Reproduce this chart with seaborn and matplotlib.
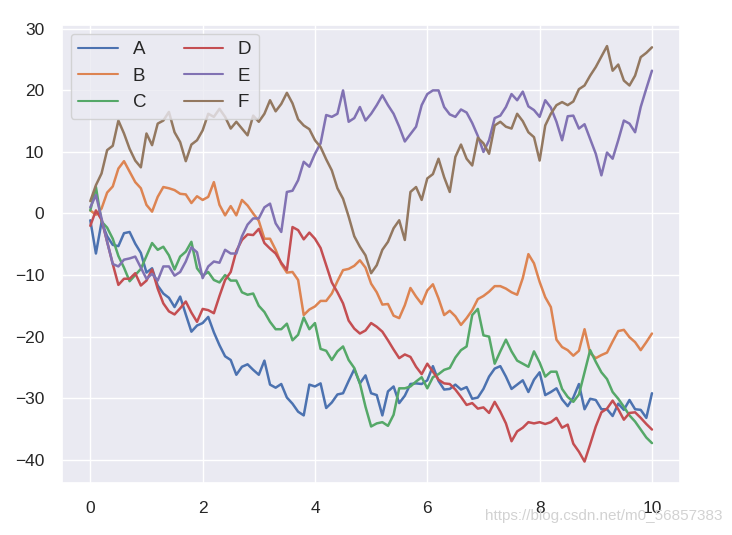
import numpy as np
import pandas as pd
import seaborn as sns
import matplotlib
matplotlib.use("Agg")
import matplotlib.pyplot as plt

# x grid (0 .. 10, step 0.1) and the six walks
x = np.round(np.linspace(0, 10, 101), 1)

A = [-1.1, -6.5, -1.4, -3.7, -5.1, -5.3, -3.2, -3.0, -4.9, -6.4, -9.6, -8.9, -11.7, -13.0, -13.7, -15.2,
     -13.5, -16.4, -19.2, -18.2, -17.8, -16.8, -19.3, -21.4, -23.2, -23.8, -26.2, -24.9, -24.5, -25.4, -26.2, -23.9, -27.8,
     -28.3, -27.7, -29.9, -30.9, -32.2, -32.8, -27.8, -28.1, -27.6, -31.6, -30.7, -29.4, -29.2, -27.2, -25.3, -27.6, -26.3,
     -29.2, -29.5, -32.8, -28.9, -28.1, -30.8, -29.6, -27.7, -27.6, -27.7, -27.1, -24.8, -27.2, -28.6, -28.5, -27.8, -28.6,
     -28.2, -30.1, -29.9, -28.5, -26.5, -25.2, -24.8, -26.5, -28.5, -27.8, -27.1, -29.0, -27.0, -25.8, -29.5, -29.0, -28.4,
     -30.2, -31.3, -29.9, -27.7, -31.8, -30.1, -30.3, -31.8, -31.8, -32.9, -30.9, -31.9, -30.3, -31.8, -31.9, -33.2, -29.2]
B = [0.5, -0.2, 0.8, 3.4, 4.4, 7.3, 8.5, 6.8, 5.1, 4.1, 1.4, 0.3, 2.7, 4.3, 4.1, 3.8,
     3.2, 3.1, 1.7, 2.8, 2.2, 2.7, 5.1, 1.4, -0.3, 1.2, -0.3, 2.2, 1.3, 0.0, -1.2, -4.1, -4.1,
     -5.9, -8.2, -9.6, -9.5, -10.8, -16.5, -15.6, -15.1, -14.2, -14.2, -13.0, -11.0, -9.2, -9.0, -8.5, -7.6, -8.8,
     -11.4, -12.8, -14.8, -14.7, -16.6, -17.0, -14.9, -12.1, -13.5, -14.7, -12.5, -11.5, -13.8, -16.5, -15.8, -16.7, -18.1,
     -17.0, -15.7, -13.9, -13.4, -12.7, -11.8, -11.8, -12.2, -12.8, -13.2, -10.5, -6.6, -8.1, -11.1, -13.6, -15.2, -20.5,
     -21.7, -22.2, -23.1, -22.3, -18.8, -22.7, -23.5, -23.0, -22.6, -20.8, -19.1, -18.9, -20.1, -20.9, -22.2, -20.9, -19.5]
C = [0.5, 4.3, -1.3, -2.3, -4.1, -6.9, -8.8, -11.0, -10.0, -9.0, -6.9, -4.8, -5.9, -5.4, -6.8, -9.1,
     -7.0, -6.2, -4.6, -8.9, -10.1, -9.5, -10.8, -11.2, -10.0, -10.9, -10.9, -12.8, -13.2, -13.0, -15.0, -16.0, -17.6,
     -18.8, -18.8, -17.9, -20.6, -19.7, -16.9, -18.8, -17.8, -22.0, -22.3, -23.8, -22.4, -21.6, -23.8, -25.1, -27.6, -31.4,
     -34.6, -34.1, -33.9, -34.5, -32.7, -28.4, -28.4, -28.1, -27.3, -26.6, -28.4, -26.6, -26.1, -25.4, -25.1, -23.4, -22.2,
     -21.6, -16.5, -15.5, -19.8, -20.0, -24.4, -22.4, -20.5, -22.4, -23.9, -24.4, -24.9, -22.4, -24.2, -26.5, -25.7, -25.7,
     -28.5, -29.8, -30.6, -29.4, -25.8, -22.2, -24.1, -25.8, -26.9, -29.0, -30.1, -31.4, -32.8, -33.8, -35.1, -36.4, -37.3]
D = [-2.0, 0.5, -1.0, -4.6, -8.2, -11.6, -10.6, -10.6, -9.7, -11.7, -10.9, -9.1, -12.2, -14.6, -15.9, -16.4,
     -15.4, -14.3, -16.1, -17.6, -15.5, -15.7, -16.2, -13.4, -10.8, -9.5, -6.1, -4.3, -3.4, -3.5, -2.5, -4.8, -5.7,
     -6.5, -8.0, -9.2, -2.2, -2.7, -4.2, -3.1, -4.1, -5.6, -8.4, -11.2, -12.8, -14.6, -17.4, -18.7, -19.5, -19.0,
     -17.8, -18.4, -19.2, -20.6, -22.1, -23.5, -22.9, -23.3, -24.9, -26.1, -24.4, -25.7, -27.0, -27.6, -27.7, -28.6, -29.8,
     -31.1, -30.8, -31.7, -31.5, -32.4, -30.6, -32.2, -34.1, -37.0, -35.4, -34.8, -33.9, -34.1, -33.9, -34.2, -33.9, -33.2,
     -34.8, -34.3, -37.4, -38.7, -40.3, -37.5, -34.6, -32.3, -31.7, -30.4, -31.8, -33.5, -32.4, -32.3, -33.2, -34.2, -35.1]
E = [1.0, 3.0, -0.8, -4.6, -8.2, -8.6, -7.5, -7.3, -7.0, -8.8, -10.6, -9.8, -10.9, -8.6, -8.6, -10.1,
     -9.5, -7.8, -5.5, -6.3, -10.5, -8.6, -7.8, -8.0, -5.9, -6.5, -6.5, -3.7, -1.8, -0.8, -0.8, 1.0, 1.6,
     -1.6, -3.0, 3.5, 3.7, 5.4, 8.4, 7.6, 9.7, 11.4, 16.0, 15.7, 16.2, 20.0, 14.9, 15.5, 17.3, 15.1,
     16.2, 17.6, 19.2, 17.6, 16.2, 14.1, 11.7, 12.9, 14.1, 17.6, 19.4, 20.0, 20.0, 17.3, 16.1, 15.7, 16.9,
     16.4, 14.7, 12.6, 10.0, 11.9, 15.5, 15.9, 17.3, 19.4, 18.4, 19.8, 17.4, 16.8, 15.7, 18.4, 17.2, 14.9,
     11.9, 15.8, 15.9, 13.8, 14.5, 12.1, 9.7, 6.2, 9.9, 8.9, 11.9, 15.1, 14.6, 13.2, 17.3, 20.3, 23.2]
F = [2.0, 4.6, 6.5, 10.3, 11.0, 15.1, 13.0, 10.5, 8.6, 7.5, 13.0, 11.1, 14.6, 15.1, 16.5, 13.2,
     11.6, 8.5, 11.2, 11.9, 13.5, 16.2, 15.7, 17.0, 15.7, 13.8, 14.9, 13.8, 12.7, 15.9, 14.9, 16.2, 18.4,
     16.6, 17.8, 19.6, 17.9, 15.3, 14.3, 13.7, 11.9, 10.8, 8.8, 7.0, 4.1, 2.4, -0.5, -3.7, -5.4, -6.8,
     -9.7, -8.4, -5.9, -4.6, -2.4, -1.1, -4.3, 3.5, 4.3, 2.2, 5.7, 6.4, 8.9, 5.9, 3.5, 9.2, 11.2,
     8.9, 7.8, 12.3, 11.4, 9.7, 14.3, 14.9, 14.1, 13.8, 16.2, 15.0, 13.2, 12.4, 8.6, 14.3, 16.2, 17.6,
     18.1, 17.6, 18.2, 20.2, 20.8, 22.4, 23.8, 25.5, 27.2, 23.2, 24.2, 21.6, 20.8, 22.4, 25.4, 26.1, 27.0]

labels = ["A", "B", "C", "D", "E", "F"]

sns.set_theme(style="darkgrid", palette="deep")
plt.rcParams["font.family"] = ["Liberation Sans", "DejaVu Sans"]

wide = pd.DataFrame(dict(zip(labels, [A, B, C, D, E, F])), index=x)
wide.index.name = "x"
df = wide.reset_index().melt(id_vars="x", var_name="series", value_name="value")

fig = plt.figure(figsize=(7.32, 5.35), dpi=100)
ax = fig.add_axes([0.085, 0.097, 0.844, 0.856])
sns.lineplot(data=df, x="x", y="value", hue="series", palette="deep",
             linewidth=1.8, ax=ax)
ax.set_xlabel("")
ax.set_ylabel("")
ax.set_ylim(-43.8, 30.6)
ax.set_yticks([-40, -30, -20, -10, 0, 10, 20, 30])
ax.tick_params(labelsize=12.5, pad=7)

handles, labs = ax.get_legend_handles_labels()
leg = ax.legend(handles, labs, ncol=2, loc="upper left", fontsize=13.5,
                handlelength=2.1, borderaxespad=0.45)
for h in leg.get_lines():
    h.set_linewidth(1.5)

# faint watermark of the source page, bottom right (overlaps the 8/10 labels as in the original)
fig.text(0.987, 0.035, "https://blog.csdn.net/m0_56857383", ha="right",
         va="center", color="#d2d2d2", fontsize=11)

fig.savefig("out.png", dpi=100)
